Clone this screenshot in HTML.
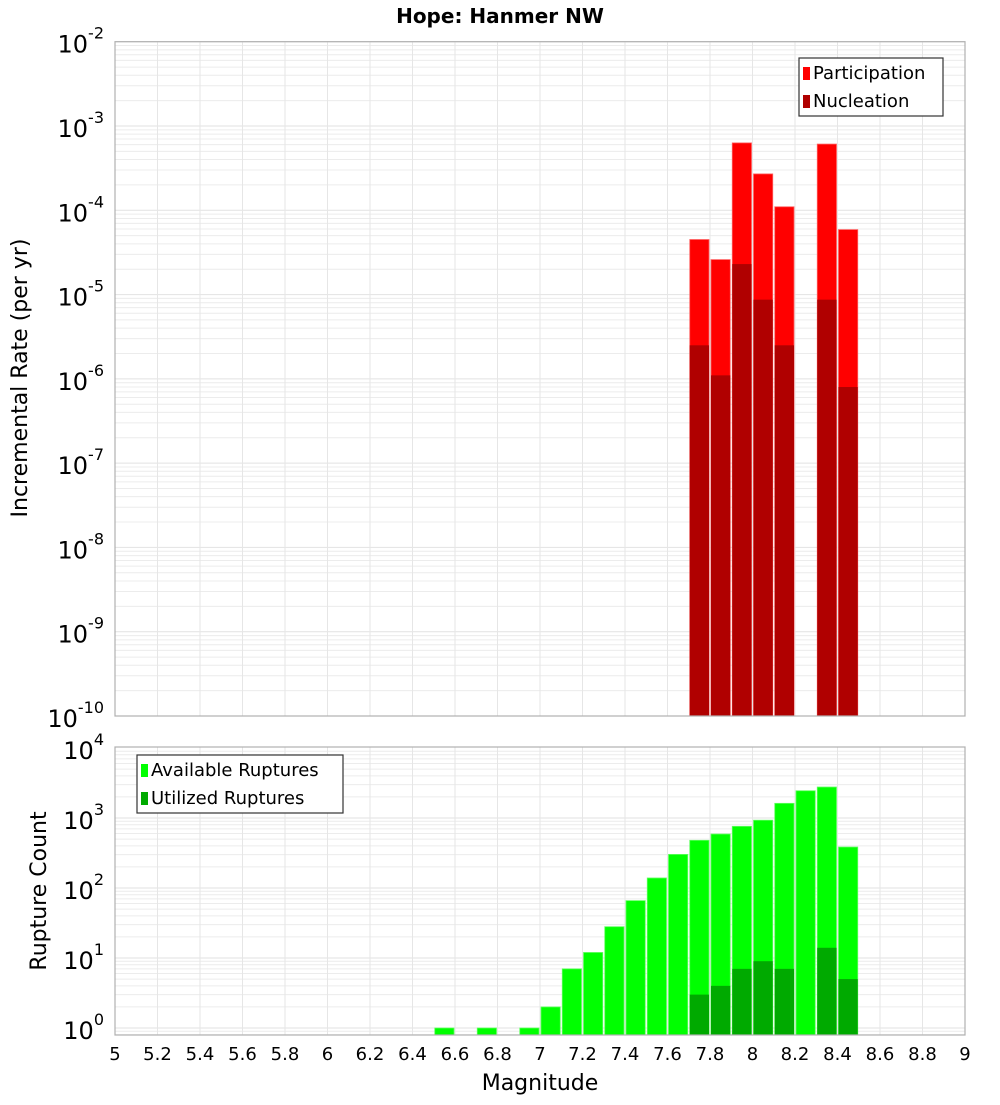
<!DOCTYPE html>
<html><head><meta charset="utf-8"><style>
body{margin:0;background:#fff;}
svg text{font-family:"DejaVu Sans","Liberation Sans",sans-serif;}
</style></head><body>
<svg id="chart" width="1000" height="1100" xmlns="http://www.w3.org/2000/svg">
<text x="500" y="23" text-anchor="middle" font-size="20" font-weight="bold">Hope: Hanmer NW</text>
<g id="top"></g><g id="bot"></g>
<text transform="translate(27,378) rotate(-90)" text-anchor="middle" font-size="22">Incremental Rate (per yr)</text>
<text transform="translate(46,891) rotate(-90)" text-anchor="middle" font-size="22">Rupture Count</text>
<text x="540" y="1090" text-anchor="middle" font-size="22">Magnitude</text>
</svg>
<script>
const binCenters=[6.55,6.75,6.95,7.05,7.15,7.25,7.35,7.45,7.55,7.65,7.75,7.85,7.95,8.05,8.15,8.25,8.35,8.45];
const available=[1,1,1,2,7,12,28,66,139,302,480,590,760,930,1620,2450,2770,385];
const utilized=[0,0,0,0,0,0,0,0,0,0,3,4,7,9,7,0,14,5];
const rateMags=[7.75,7.85,7.95,8.05,8.15,8.35,8.45];
const participation=[4.5e-5,2.6e-5,6.3e-4,2.7e-4,1.1e-4,6.1e-4,5.9e-5];
const nucleation=[2.5e-6,1.1e-6,2.3e-5,8.7e-6,2.5e-6,8.7e-6,8e-7];
const xTicks=[5,5.2,5.4,5.6,5.8,6,6.2,6.4,6.6,6.8,7,7.2,7.4,7.6,7.8,8,8.2,8.4,8.6,8.8,9];
const topExps=[-2,-3,-4,-5,-6,-7,-8,-9,-10];
const botExps=[4,3,2,1,0];

const NS="http://www.w3.org/2000/svg";
const X0=115,X1=965;
const xs=m=>X0+(m-5)/4*(X1-X0);
const T0=41.7,T1=716,TD=(T1-T0)/8;
const yt=v=>T0+(-2-Math.log10(v))*TD;
const B0=747,B1=1035,BD=70,BY1=1028;
const yb=v=>BY1-Math.log10(v)*BD;
function el(p,tag,a,txt){const e=document.createElementNS(NS,tag);for(const k in a)e.setAttribute(k,a[k]);if(txt!==undefined)e.textContent=txt;p.appendChild(e);return e;}
const gTop=document.getElementById('top'),gBot=document.getElementById('bot');

function grid(g,y0,y1,yf,lo,hi){
  for(let d=lo;d<hi;d++)for(let k=1;k<10;k++){const y=yf(k*Math.pow(10,d));if(y<y0-0.5||y>y1+0.5)continue;
    const l=el(g,'line',{x1:X0,x2:X1,y1:y,y2:y,stroke:k==1?'#e2e2e2':'#ececec','stroke-width':1});
    
    }
  xTicks.forEach(t=>{const l=el(g,'line',{x1:xs(t),x2:xs(t),y1:y0,y2:y1,stroke:'#e6e6e6','stroke-width':1});
    
    });
}
grid(gTop,T0,T1,yt,-10,-1);
grid(gBot,B0,B1,yb,-1,4);

const bw=(X1-X0)/40;
rateMags.forEach((m,i)=>{
  const x=xs(m)-bw/2+1;
  const r=el(gTop,'rect',{x:x,y:yt(participation[i]),width:bw-2,height:T1-yt(participation[i]),fill:'#ff0000',stroke:'#ff6060','stroke-width':0.8});
  
  
  const n=el(gTop,'rect',{x:x,y:yt(nucleation[i]),width:bw-2,height:T1-yt(nucleation[i]),fill:'#b00000'});
  
  
});
binCenters.forEach((m,i)=>{
  const x=xs(m)-bw/2+1;
  if(available[i]>0){const r=el(gBot,'rect',{x:x,y:yb(available[i]),width:bw-2,height:B1-yb(available[i]),fill:'#00ff00',stroke:'#60ff60','stroke-width':0.8});
  
  }
  if(utilized[i]>0){const u=el(gBot,'rect',{x:x,y:yb(utilized[i]),width:bw-2,height:B1-yb(utilized[i]),fill:'#00aa00'});
  
  }
});
[[gTop,T0,T1],[gBot,B0,B1]].forEach(([g,a,b])=>{const f=el(g,'rect',{x:X0,y:a,width:X1-X0,height:b-a,fill:'none',stroke:'#b0b0b0','stroke-width':1.2});
  
  });

function ylab(g,e,y){const t=el(g,'text',{x:104,y:y+11,'text-anchor':'end','font-size':24});
  
  
  el(t,'tspan',{},'10');el(t,'tspan',{dy:-14,'font-size':16},String(e));}
topExps.forEach(e=>ylab(gTop,e,yt(Math.pow(10,e))));
botExps.forEach(e=>ylab(gBot,e,yb(Math.pow(10,e))));
xTicks.forEach(t=>{const l=el(gBot,'text',{x:xs(t),y:1060,'text-anchor':'middle','font-size':18},String(t));
  
  });

function legend(g,x,y,w,items){const b=el(g,'rect',{x:x,y:y,width:w,height:58,fill:'#fff',stroke:'#333','stroke-width':1.2});
  
  
  items.forEach((it,i)=>{const s=el(g,'rect',{x:x+4,y:y+9+i*28,width:7,height:13,fill:it[1]});
    
    
    const t=el(g,'text',{x:x+14,y:y+21+i*28,'font-size':18},it[0]);
    
    });}
legend(gTop,799,58,144,[['Participation','#ff0000'],['Nucleation','#b00000']]);
legend(gBot,137,755,206,[['Available Ruptures','#00ff00'],['Utilized Ruptures','#00aa00']]);
</script>
</body></html>
